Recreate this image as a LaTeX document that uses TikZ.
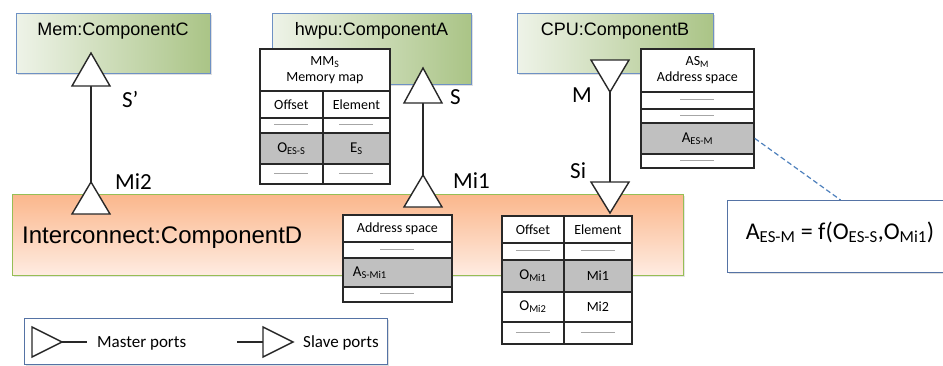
\documentclass[tikz,border=0pt]{standalone}
\usepackage{fontspec}
\setmainfont{Carlito}
\newfontfamily\arialf{Liberation Sans}
\usetikzlibrary{shadows}
\definecolor{compB}{RGB}{110,145,196}
\definecolor{compL}{RGB}{238,243,232}
\definecolor{compR}{RGB}{170,196,134}
\definecolor{icBd}{RGB}{150,190,85}
\definecolor{icT}{RGB}{251,183,140}
\definecolor{icBt}{RGB}{254,236,226}
\definecolor{tblc}{RGB}{40,40,40}
\definecolor{cellgray}{RGB}{192,192,192}
\definecolor{dashblue}{RGB}{79,129,189}
\definecolor{boxB}{RGB}{85,115,165}
\newcommand\phl[1]{\draw[ph] ([xshift=-17pt,yshift=1pt]#1.center) -- ([xshift=17pt,yshift=1pt]#1.center);}
\begin{document}
\begin{tikzpicture}[x=1pt,y=-1pt,
  comp/.style={draw=compB, line width=1.2pt, left color=compL, right color=compR, anchor=north west, inner sep=0pt, drop shadow={opacity=0.25, shadow xshift=1.5pt, shadow yshift=-1.5pt}},
  ctitle/.style={font=\arialf\fontsize{18}{20}\selectfont, anchor=base, inner sep=0pt},
  cell/.style={draw=tblc, line width=1.8pt, fill=white, inner sep=0pt, anchor=north west, font=\fontsize{14}{16}\selectfont, align=center},
  gcell/.style={cell, fill=cellgray},
  bigt/.style={font=\fontsize{15}{17}\selectfont},
  port/.style={draw=tblc, line width=1.4pt, fill=white, line join=miter},
  wire/.style={draw=tblc, line width=1.5pt},
  plab/.style={font=\fontsize{23}{25}\selectfont, anchor=base west, inner sep=0pt},
  ph/.style={draw=black!35, line width=0.6pt},
  legtext/.style={font=\fontsize{17}{19}\selectfont, anchor=base west, inner sep=0pt},
  wbox/.style={draw=boxB, line width=1.2pt, fill=white, anchor=north west, inner sep=0pt, drop shadow={opacity=0.25, shadow xshift=1.5pt, shadow yshift=-1.5pt}}
]
\useasboundingbox[fill=white] (0,0) rectangle (943,365);

% components
\node[comp, minimum width=194pt, minimum height=60pt] (memC) at (16,13) {};
\node[ctitle] (memCt) at (113,35) {Mem:ComponentC};
\node[comp, minimum width=199pt, minimum height=71pt] (hwpuA) at (272,13) {};
\node[ctitle] (hwpuAt) at (371.5,35) {hwpu:ComponentA};
\node[comp, minimum width=196pt, minimum height=60pt] (cpuB) at (517,13) {};
\node[ctitle] (cpuBt) at (615,35) {CPU:ComponentB};

% interconnect
\node[draw=icBd, line width=1.2pt, top color=icT, bottom color=icBt, anchor=north west, inner sep=0pt,
      minimum width=671pt, minimum height=81pt,
      drop shadow={opacity=0.2, shadow xshift=1.5pt, shadow yshift=-1.5pt}] (icD) at (12,194) {};
\node[font=\arialf\fontsize{24}{28}\selectfont, anchor=base west, inner sep=0pt] (icDt) at (22,243) {Interconnect:ComponentD};

% MM_S table
\node[cell, minimum width=130pt, minimum height=42pt] (mmH) at (259,48) {MM\textsubscript{S}\\Memory map};
\node[cell, minimum width=63pt, minimum height=27pt] (mmO) at (259,90) {Offset};
\node[cell, minimum width=67pt, minimum height=27pt] (mmE) at (322,90) {Element};
\node[cell, minimum width=63pt, minimum height=15pt] (mmP1) at (259,117) {};
\node[cell, minimum width=67pt, minimum height=15pt] (mmP2) at (322,117) {};
\node[gcell, bigt, minimum width=63pt, minimum height=31pt] (mmG1) at (259,132) {O\textsubscript{ES-S}};
\node[gcell, bigt, minimum width=67pt, minimum height=31pt] (mmG2) at (322,132) {E\textsubscript{S}};
\node[cell, minimum width=63pt, minimum height=20pt] (mmL1) at (259,163) {};
\node[cell, minimum width=67pt, minimum height=20pt] (mmL2) at (322,163) {};
\phl{mmP1}\phl{mmP2}\phl{mmL1}\phl{mmL2}

% AS_M table
\node[cell, minimum width=113pt, minimum height=43pt] (asmH) at (640,48) {AS\textsubscript{M}\\Address space};
\node[cell, minimum width=113pt, minimum height=17pt] (asmP1) at (640,91) {};
\node[cell, minimum width=113pt, minimum height=14pt] (asmP2) at (640,108) {};
\node[gcell, bigt, minimum width=113pt, minimum height=31pt] (asmG) at (640,122) {A\textsubscript{ES-M}};
\node[cell, minimum width=113pt, minimum height=14pt] (asmL) at (640,153) {};
\phl{asmP1}\phl{asmP2}\phl{asmL}

% Address space table (interconnect)
\node[cell, minimum width=109pt, minimum height=27pt] (icaH) at (342,214) {Address space};
\node[cell, minimum width=109pt, minimum height=16pt] (icaP) at (342,241) {};
\node[gcell, bigt, text width=89pt, inner xsep=10pt, align=left, minimum height=29pt] (icaG) at (342,257) {A\textsubscript{S-Mi1}};
\node[cell, minimum width=109pt, minimum height=15pt] (icaL) at (342,286) {};
\phl{icaP}\phl{icaL}

% Offset / Element table (interconnect)
\node[cell, minimum width=62pt, minimum height=27pt] (icoO) at (501,215) {Offset};
\node[cell, minimum width=68pt, minimum height=27pt] (icoE) at (563,215) {Element};
\node[cell, minimum width=62pt, minimum height=17pt] (icoP1) at (501,242) {};
\node[cell, minimum width=68pt, minimum height=17pt] (icoP2) at (563,242) {};
\node[gcell, bigt, minimum width=62pt, minimum height=32pt] (icoG1) at (501,259) {O\textsubscript{Mi1}};
\node[gcell, minimum width=68pt, minimum height=32pt] (icoG2) at (563,259) {Mi1};
\node[cell, bigt, minimum width=62pt, minimum height=30pt] (icoM1) at (501,291) {O\textsubscript{Mi2}};
\node[cell, minimum width=68pt, minimum height=30pt] (icoM2) at (563,291) {Mi2};
\node[cell, minimum width=62pt, minimum height=22pt] (icoL1) at (501,321) {};
\node[cell, minimum width=68pt, minimum height=22pt] (icoL2) at (563,321) {};
\phl{icoP1}\phl{icoP2}\phl{icoL1}\phl{icoL2}

% ports and wires
\coordinate (spBase) at (91,86);
\coordinate (mi2Top) at (91,182);
\coordinate (sBase) at (423,103);
\coordinate (mi1Top) at (423,175);
\coordinate (mApex) at (610,92);
\coordinate (siBase) at (610,182);
\draw[wire] (spBase) -- (mi2Top);
\draw[wire] (sBase) -- (mi1Top);
\draw[wire] (mApex) -- (siBase);
\draw[port] (spBase) ++(-19,0) -- ++(19,-33) -- ++(19,33) -- cycle;
\draw[port] (mi2Top) -- ++(19,32) -- ++(-38,0) -- cycle;
\draw[port] (sBase) ++(-19,0) -- ++(19,-35) -- ++(19,35) -- cycle;
\draw[port] (mi1Top) -- ++(19,32) -- ++(-38,0) -- cycle;
\draw[port] (mApex) -- ++(19,-32) -- ++(-38,0) -- cycle;
\draw[port] (siBase) ++(-19,0) -- ++(19,31) -- ++(19,-31) -- cycle;

\node[plab] (lSp) at (122,107) {S’};
\node[plab] (lMi2) at (115,189) {Mi2};
\node[plab] (lS) at (450,104) {S};
\node[plab] (lMi1) at (453,188) {Mi1};
\node[plab] (lM) at (572,102) {M};
\node[plab] (lSi) at (570,178) {Si};

% formula box
\node[wbox, minimum width=226pt, minimum height=72pt] (fbox) at (727,200) {};
\node[font=\fontsize{24}{28}\selectfont, anchor=base, inner sep=0pt] (ftext) at (840,239)
  {A\textsubscript{ES-M} = f(O\textsubscript{ES-S},O\textsubscript{Mi1})};
\draw[dashblue, line width=1.2pt, dash pattern=on 5pt off 3pt] (asmG.east) -- (fbox.north);

% legend
\node[wbox, minimum width=363pt, minimum height=46pt] (leg) at (24,318) {};
\coordinate (mstA) at (62,342);
\coordinate (mstE) at (87,342);
\draw[wire, line width=1.3pt] (mstA) -- (mstE);
\draw[port] (mstA) -- ++(-30,-15) -- ++(0,30) -- cycle;
\node[legtext] (legM) at (97,347) {Master ports};
\coordinate (slvS) at (237,342);
\coordinate (slvB) at (263,342);
\draw[wire, line width=1.3pt] (slvS) -- (slvB);
\draw[port] (slvB) ++(0,-15) -- ++(30,15) -- ++(-30,15) -- cycle;
\node[legtext] (legS) at (303,347) {Slave ports};
\end{tikzpicture}
\end{document}
